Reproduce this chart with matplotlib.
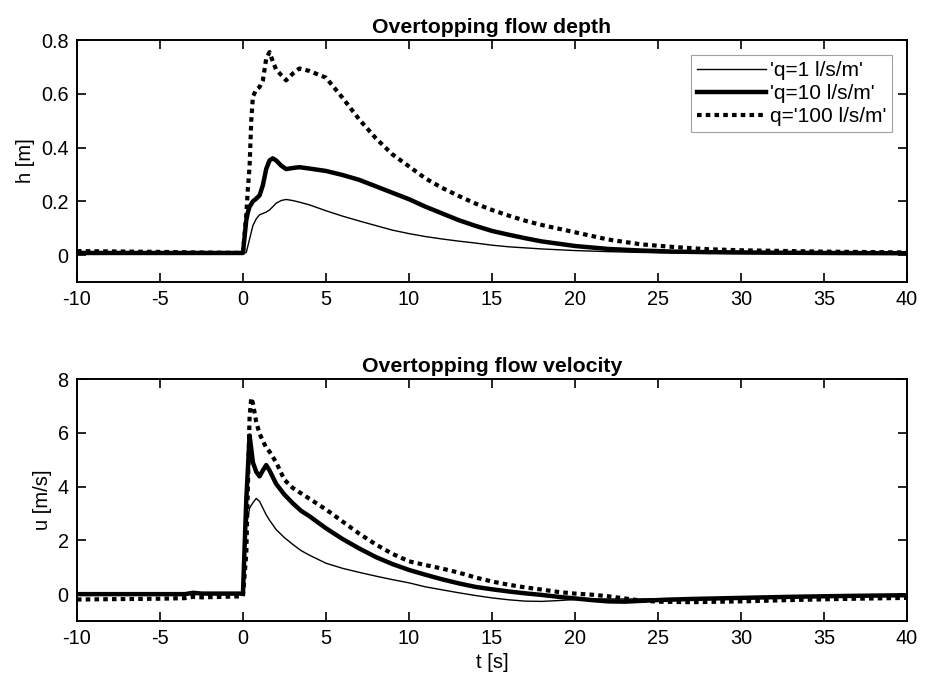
import numpy as np
import matplotlib
matplotlib.use("Agg")
import matplotlib.pyplot as plt

plt.rcParams['font.family'] = ['Liberation Sans', 'DejaVu Sans']
plt.rcParams['axes.unicode_minus'] = False

# == datos: profundidad h [m] ==
t_h = [-10, -5, -3, 0, 0.2, 0.3, 0.4, 0.5, 0.6, 0.8, 1.0, 1.2, 1.4, 1.6, 1.8, 2.0,
       2.3, 2.6, 3.0, 3.4, 4, 5, 6, 7, 8, 9, 10, 11, 12, 13, 14, 15, 16, 17, 18,
       20, 22, 24, 26, 28, 30, 35, 40]
h_q1 = [0.005, 0.005, 0.005, 0.005,
        0.01, 0.035, 0.06, 0.085, 0.11, 0.135, 0.15, 0.155, 0.16, 0.168, 0.18, 0.193,
        0.203, 0.207, 0.203, 0.197,
        0.187, 0.165, 0.145, 0.127, 0.11, 0.093, 0.08, 0.069, 0.06, 0.052, 0.045, 0.037,
        0.031, 0.027, 0.023, 0.017, 0.013, 0.01, 0.008, 0.007, 0.006, 0.005, 0.005]
h_q10 = [0.008, 0.008, 0.008, 0.008,
         0.13, 0.16, 0.18, 0.19, 0.2, 0.21, 0.222, 0.26, 0.32, 0.352, 0.36, 0.352,
         0.333, 0.32, 0.324, 0.327,
         0.322, 0.313, 0.298, 0.28, 0.256, 0.232, 0.208, 0.18, 0.155, 0.13, 0.109, 0.09,
         0.076, 0.063, 0.051, 0.034, 0.023, 0.017, 0.013, 0.011, 0.01, 0.008, 0.007]
h_q100 = [0.015, 0.012, 0.01, 0.008,
          0.15, 0.25, 0.33, 0.5, 0.59, 0.615, 0.625, 0.65, 0.73, 0.755, 0.72, 0.69,
          0.67, 0.65, 0.675, 0.694,
          0.685, 0.66, 0.585, 0.505, 0.435, 0.375, 0.33, 0.285, 0.25, 0.22, 0.192, 0.168,
          0.147, 0.128, 0.112, 0.085, 0.058, 0.04, 0.03, 0.022, 0.018, 0.013, 0.01]

# == datos: velocidad u [m/s] ==
t_u = [-10, -5, -3.5, -3, -2.5, 0, 0.2, 0.4, 0.5, 0.6, 0.8, 1.0, 1.2, 1.4, 1.6, 2.0,
       2.5, 3, 3.5, 4, 5, 6, 7, 8, 9, 10, 11, 12, 13, 14, 15, 16, 17, 18, 19, 20,
       21, 22, 23, 24, 25, 27, 30, 33, 36, 40]
u_q1 = [0.0, 0.0, 0.0, 0.05, 0.02, 0.02,
        2.5, 3.2, 3.3, 3.4, 3.56, 3.45, 3.2, 2.95, 2.75, 2.4,
        2.1, 1.85, 1.62, 1.45, 1.15, 0.96, 0.81, 0.67, 0.54, 0.42, 0.27, 0.16, 0.05, -0.05,
        -0.14, -0.21, -0.26, -0.27, -0.24, -0.2,
        -0.18, -0.18, -0.18, -0.18, -0.17, -0.15, -0.12, -0.1, -0.07, -0.04]
u_q10 = [0.0, 0.0, 0.0, 0.05, 0.02, 0.02,
         3.5, 5.9, 5.4, 4.9, 4.55, 4.38, 4.6, 4.8, 4.6, 4.1,
         3.7, 3.38, 3.1, 2.9, 2.45, 2.05, 1.7, 1.38, 1.12, 0.9, 0.72, 0.55, 0.4, 0.27,
         0.18, 0.1, 0.03, -0.03, -0.1, -0.16,
         -0.22, -0.27, -0.28, -0.25, -0.22, -0.18, -0.14, -0.1, -0.07, -0.04]
u_q100 = [-0.2, -0.17, -0.15, -0.1, -0.12, -0.08,
          1.5, 6.6, 7.3, 7.1, 6.4, 5.97, 5.7, 5.45, 5.3, 4.9,
          4.25, 3.95, 3.75, 3.55, 3.15, 2.7, 2.25, 1.85, 1.5, 1.22, 1.08, 0.95, 0.8, 0.62,
          0.47, 0.35, 0.25, 0.17, 0.08, 0.02,
          -0.02, -0.08, -0.16, -0.24, -0.28, -0.3, -0.27, -0.22, -0.18, -0.14]

etiquetas = ["'q=1 l/s/m'", "'q=10 l/s/m'", "q='100 l/s/m'"]
x_ticks = np.arange(-10, 41, 5)


def estilo_eje(ax):
    ax.set_xlim(-10, 40)
    ax.set_xticks(x_ticks)
    ax.tick_params(direction='in', top=True, right=True, length=6.5, width=1.2,
                   labelsize=14.3, pad=6)
    for s in ax.spines.values():
        s.set_linewidth(1.4)


fig = plt.figure(figsize=(9.34, 6.85), dpi=100)
ax1 = fig.add_axes([0.0824, 0.5883, 0.8886, 0.3533])
ax2 = fig.add_axes([0.0824, 0.0934, 0.8886, 0.3533])

ax1.plot(t_h, h_q1, color='k', lw=1.0, label=etiquetas[0])
ax1.plot(t_h, h_q10, color='k', lw=3.2, label=etiquetas[1])
ax1.plot(t_h, h_q100, color='k', lw=3.0, linestyle=(0, (1.1, 1.0)),
         dash_capstyle='butt', label=etiquetas[2])
ax1.set_ylim(-0.1, 0.8)
ax1.set_yticks([0, 0.2, 0.4, 0.6, 0.8])
ax1.set_yticklabels(['0', '0.2', '0.4', '0.6', '0.8'])
ax1.set_ylabel('h [m]', fontsize=14.5)
ax1.set_title('Overtopping flow depth', fontsize=15.3, fontweight='bold', pad=5)
estilo_eje(ax1)
leg = ax1.legend(loc='upper right', fontsize=15, handlelength=3.3, frameon=True,
                 fancybox=False, edgecolor='#888888', borderaxespad=0.7,
                 labelspacing=0.2, handletextpad=0.2, borderpad=0.3)
leg.get_frame().set_linewidth(0.8)

ax2.plot(t_u, u_q1, color='k', lw=1.0)
ax2.plot(t_u, u_q10, color='k', lw=3.2)
ax2.plot(t_u, u_q100, color='k', lw=3.0, linestyle=(0, (1.1, 1.0)),
         dash_capstyle='butt')
ax2.set_ylim(-1, 8)
ax2.set_yticks([0, 2, 4, 6, 8])
ax2.set_ylabel('u [m/s]', fontsize=14.5)
ax2.set_xlabel('t [s]', fontsize=14.5, labelpad=3)
ax2.set_title('Overtopping flow velocity', fontsize=15.3, fontweight='bold', pad=5)
estilo_eje(ax2)

fig.savefig('out.png', dpi=100)
